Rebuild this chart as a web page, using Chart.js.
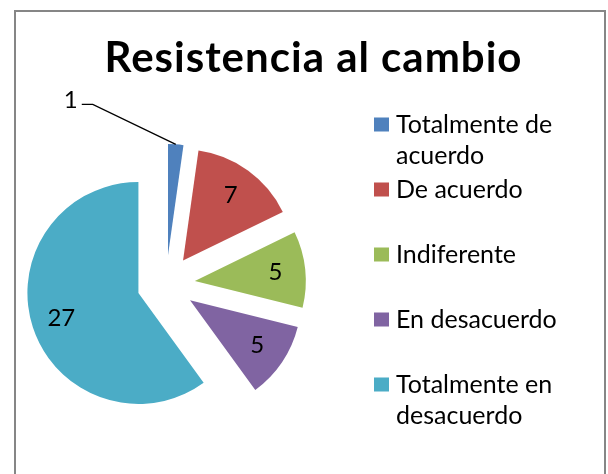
<!DOCTYPE html>
<html>
<head>
<meta charset="utf-8">
<script src="https://cdn.jsdelivr.net/npm/chart.js@4/dist/chart.umd.min.js"></script>
<style>
  html, body { margin: 0; padding: 0; background: #fff; }
  #wrap { width: 608px; height: 474px; position: relative; }
</style>
</head>
<body>
<div id="wrap"><canvas id="c" width="608" height="474"></canvas></div>
<script>
// ---- data ----
const titleText = "Resistencia al cambio";
const categories = [["Totalmente de", "acuerdo"], "De acuerdo", "Indiferente", "En desacuerdo", ["Totalmente en", "desacuerdo"]];
const values = [1, 7, 5, 5, 27];
const colors = ["#4F81BD", "#C0504D", "#9BBB59", "#8064A2", "#4BACC6"];

// ---- styling / layout ----
const FONT = "Lato, 'Open Sans', sans-serif";
const EXPLODE = 29;

const drawPlugin = {
  id: 'excelPie',
  beforeDraw(chart) {
    const ctx = chart.ctx;
    ctx.save();
    ctx.fillStyle = '#fff';
    ctx.fillRect(0, 0, chart.width, chart.height);
    ctx.strokeStyle = '#868686';
    ctx.lineWidth = 2;
    ctx.beginPath();
    ctx.moveTo(15, chart.height + 4);
    ctx.lineTo(15, 11);
    ctx.lineTo(605, 11);
    ctx.lineTo(605, chart.height + 4);
    ctx.stroke();
    ctx.restore();
  },
  beforeDatasetsDraw(chart) {
    const ctx = chart.ctx;
    const meta = chart.getDatasetMeta(0);
    meta.data.forEach(arc => {
      const mid = (arc.startAngle + arc.endAngle) / 2;
      ctx.save();
      ctx.translate(Math.cos(mid) * EXPLODE, Math.sin(mid) * EXPLODE);
      arc.draw(ctx);
      ctx.restore();
    });
    return false;
  },
  afterDraw(chart) {
    const ctx = chart.ctx;
    const meta = chart.getDatasetMeta(0);
    const ds = chart.data.datasets[0];
    ctx.save();
    // title
    ctx.fillStyle = '#000';
    ctx.font = "bold 42px " + FONT;
    if ('letterSpacing' in ctx) ctx.letterSpacing = '1px';
    ctx.textAlign = 'center';
    ctx.textBaseline = 'alphabetic';
    ctx.fillText(titleText, 313.5, 72);
    if ('letterSpacing' in ctx) ctx.letterSpacing = '0px';

    // data labels
    ctx.font = "24px " + FONT;
    meta.data.forEach((arc, i) => {
      const mid = (arc.startAngle + arc.endAngle) / 2;
      const cx = arc.x, cy = arc.y, r = arc.outerRadius;
      const txt = String(ds.data[i]);
      if (arc.endAngle - arc.startAngle < 0.3) {
        const ex = cx + Math.cos(mid) * (EXPLODE + r);
        const ey = cy + Math.sin(mid) * (EXPLODE + r);
        const kx = ex - 83, ky = ey - 40;
        ctx.strokeStyle = '#000';
        ctx.lineWidth = 1.3;
        ctx.beginPath();
        ctx.moveTo(ex, ey);
        ctx.lineTo(kx, ky);
        ctx.lineTo(kx - 11, ky);
        ctx.stroke();
        ctx.textAlign = 'right';
        ctx.textBaseline = 'middle';
        ctx.fillText(txt, kx - 15, ky - 4);
      } else {
        const d = EXPLODE + 0.73 * r;
        ctx.textAlign = 'center';
        ctx.textBaseline = 'middle';
        ctx.fillText(txt, cx + Math.cos(mid) * d, cy + Math.sin(mid) * d);
      }
    });

    // legend
    ctx.font = "25px " + FONT;
    ctx.textAlign = 'left';
    ctx.textBaseline = 'alphabetic';
    chart.data.labels.forEach((lab, i) => {
      const yc = 124.5 + i * 65;
      ctx.fillStyle = ds.backgroundColor[i];
      ctx.fillRect(374, yc - 7, 15, 14);
      ctx.fillStyle = '#000';
      const lines = Array.isArray(lab) ? lab : [lab];
      lines.forEach((ln, k) => ctx.fillText(ln, 396, yc + 8.7 + k * 31));
    });
    ctx.restore();
  }
};

new Chart(document.getElementById('c'), {
  type: 'pie',
  data: {
    labels: categories,
    datasets: [{
      data: values,
      backgroundColor: colors,
      borderWidth: 0,
      radius: 111,
      offset: 0
    }]
  },
  options: {
    responsive: false,
    animation: false,
    events: [],
    layout: { padding: { left: 36, right: 312, top: 100, bottom: 6 } },
    plugins: {
      legend: { display: false },
      title: { display: false },
      tooltip: { enabled: false }
    }
  },
  plugins: [drawPlugin]
});
</script>
</body>
</html>
